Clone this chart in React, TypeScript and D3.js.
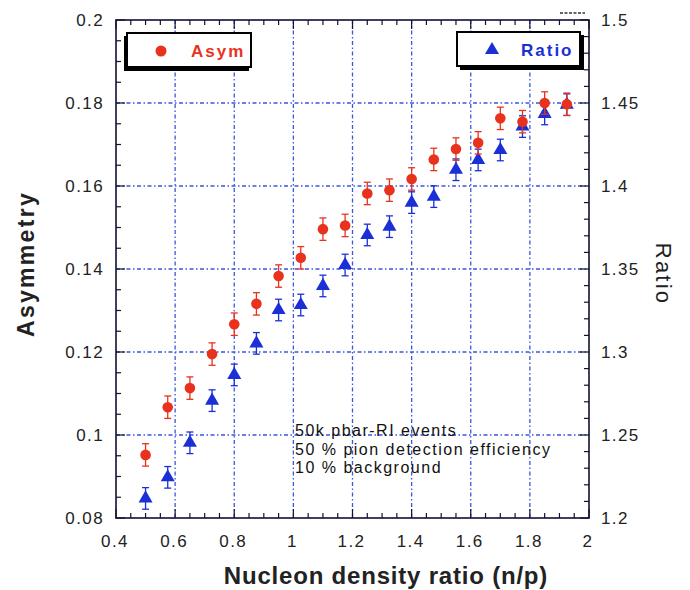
import React from "react";
import * as d3 from "d3";

const xVals = [0.5, 0.575, 0.65, 0.725, 0.8, 0.875, 0.95, 1.025, 1.1, 1.175, 1.25, 1.325, 1.4, 1.475, 1.55, 1.625, 1.7, 1.775, 1.85, 1.925];
const asymVals = [0.0952, 0.1067, 0.1113, 0.1195, 0.1267, 0.1316, 0.1383, 0.1427, 0.1496, 0.1505, 0.1582, 0.159, 0.1617, 0.1664, 0.1689, 0.1704, 0.1763, 0.1755, 0.18, 0.1797];
const asymErr = [0.0027, 0.0027, 0.0027, 0.0027, 0.0027, 0.0027, 0.0027, 0.0027, 0.0027, 0.0027, 0.0027, 0.0027, 0.0027, 0.0027, 0.0027, 0.0027, 0.0027, 0.0027, 0.0027, 0.0027];
const ratioVals = [1.2118, 1.2245, 1.2453, 1.2707, 1.2862, 1.3052, 1.3253, 1.3283, 1.3398, 1.3524, 1.3705, 1.3755, 1.39, 1.3936, 1.4098, 1.4157, 1.4217, 1.4358, 1.4434, 1.449];
const ratioErr = [0.0065, 0.0065, 0.0065, 0.0065, 0.0065, 0.0065, 0.0065, 0.0065, 0.0065, 0.0065, 0.0065, 0.0065, 0.0065, 0.0065, 0.0065, 0.0065, 0.0065, 0.0065, 0.0065, 0.0065];
const xTicks = [0.4, 0.6, 0.8, 1, 1.2, 1.4, 1.6, 1.8, 2];
const yLeftTicks = [0.08, 0.1, 0.12, 0.14, 0.16, 0.18, 0.2];
const yRightTicks = [1.2, 1.25, 1.3, 1.35, 1.4, 1.45, 1.5];
const noteLines = ["50k pbar-RI events", "50 % pion detection efficiency", "10 % background"];

const RED = "#e8321e";
const BLUE = "#1a2fd6";
const GRID = "#3a55e0";
const FONT = "'Liberation Sans', Arial, Helvetica, sans-serif";

export default function App() {
  const L = 116, R = 589, T = 20, B = 518;
  const x = d3.scaleLinear().domain([0.4, 2]).range([L, R]);
  const yL = d3.scaleLinear().domain([0.08, 0.2]).range([B, T]);
  const yR = d3.scaleLinear().domain([1.2, 1.5]).range([B, T]);
  const tri = d3.symbol().type(d3.symbolTriangle).size(85)();

  const xMinor = d3.range(0.4, 2.0001, 0.05);
  const yLMinor = d3.range(0.08, 0.2001, 0.005);
  const yRMinor = d3.range(1.2, 1.5001, 0.01);
  const axisCol = "#111133";
  const tickFont = { fontSize: 17, letterSpacing: 1.4 } as const;

  return (
    <svg width={690} height={590} style={{ position: "absolute", left: 0, top: 0, background: "#fff" }} fontFamily={FONT}>
      <rect x={0} y={0} width={690} height={590} fill="#fff" />
      {/* grid */}
      {xTicks.slice(1, -1).map((t) => (
        <line key={"gx" + t} x1={x(t)} x2={x(t)} y1={T} y2={B} stroke={GRID} strokeWidth={1.3} strokeDasharray="4,2.5,1.5,2.5" />
      ))}
      {yLeftTicks.slice(1, -1).map((t) => (
        <line key={"gy" + t} x1={L} x2={R} y1={yL(t)} y2={yL(t)} stroke={GRID} strokeWidth={1.3} strokeDasharray="4,2.5,1.5,2.5" />
      ))}
      {/* minor ticks */}
      {xMinor.map((t, i) => {
        const major = i % 4 === 0;
        const len = major ? 9 : 5;
        return (
          <g key={"xm" + i}>
            <line x1={x(t)} x2={x(t)} y1={B} y2={B - len} stroke={axisCol} strokeWidth={1.2} />
            <line x1={x(t)} x2={x(t)} y1={T} y2={T + len} stroke={axisCol} strokeWidth={1.2} />
          </g>
        );
      })}
      {yLMinor.map((t, i) => {
        const major = i % 4 === 0;
        return <line key={"ylm" + i} x1={L} x2={L + (major ? 9 : 5)} y1={yL(t)} y2={yL(t)} stroke={axisCol} strokeWidth={1.2} />;
      })}
      {yRMinor.map((t, i) => {
        const major = i % 5 === 0;
        return <line key={"yrm" + i} x1={R} x2={R - (major ? 9 : 5)} y1={yR(t)} y2={yR(t)} stroke={axisCol} strokeWidth={1.2} />;
      })}
      {/* frame */}
      <rect x={L} y={T} width={R - L} height={B - T} fill="none" stroke={axisCol} strokeWidth={1.6} />
      <line x1={560} x2={585} y1={13} y2={13} stroke="#333" strokeWidth={1.5} strokeDasharray="3,1.5" />

      {/* tick labels */}
      {xTicks.map((t) => (
        <text key={"xl" + t} x={x(t) - 1} y={547} textAnchor="middle" {...tickFont} fill="#222">{String(t)}</text>
      ))}
      {yLeftTicks.map((t) => (
        <text key={"yl" + t} x={104} y={yL(t) + 6} textAnchor="end" {...tickFont} fill="#222">{String(t)}</text>
      ))}
      {yRightTicks.map((t) => (
        <text key={"yr" + t} x={601} y={yR(t) + 6} textAnchor="start" {...tickFont} fill="#222">{String(t)}</text>
      ))}

      {/* axis titles */}
      <text x={386} y={584} textAnchor="middle" fontSize={24} letterSpacing={0.8} fontWeight="bold" fill="#222">Nucleon density ratio (n/p)</text>
      <text transform={`translate(34,264) rotate(-90)`} textAnchor="middle" fontSize={23} letterSpacing={2.3} fontWeight="bold" fill="#222">Asymmetry</text>
      <text transform={`translate(656,274) rotate(90)`} textAnchor="middle" fontSize={22} letterSpacing={2.2} fill="#222">Ratio</text>

      {/* ratio series */}
      {xVals.map((xv, i) => {
        const cx = x(xv);
        const y0 = yR(ratioVals[i] - ratioErr[i]);
        const y1 = yR(ratioVals[i] + ratioErr[i]);
        return (
          <g key={"r" + i} stroke={BLUE} strokeWidth={1.3}>
            <line x1={cx} x2={cx} y1={y0} y2={y1} />
            <line x1={cx - 3.5} x2={cx + 3.5} y1={y0} y2={y0} />
            <line x1={cx - 3.5} x2={cx + 3.5} y1={y1} y2={y1} />
            <path d={tri} transform={`translate(${cx},${yR(ratioVals[i])})`} fill={BLUE} stroke="none" />
          </g>
        );
      })}
      {/* asym series */}
      {xVals.map((xv, i) => {
        const cx = x(xv);
        const y0 = yL(asymVals[i] - asymErr[i]);
        const y1 = yL(asymVals[i] + asymErr[i]);
        return (
          <g key={"a" + i} stroke={RED} strokeWidth={1.3}>
            <line x1={cx} x2={cx} y1={y0} y2={y1} />
            <line x1={cx - 3.5} x2={cx + 3.5} y1={y0} y2={y0} />
            <line x1={cx - 3.5} x2={cx + 3.5} y1={y1} y2={y1} />
            <circle cx={cx} cy={yL(asymVals[i])} r={5.3} fill={RED} stroke="none" />
          </g>
        );
      })}

      {/* note */}
      {noteLines.map((s, i) => (
        <text key={"n" + i} x={295} y={436 + i * 18.5} fontSize={16} letterSpacing={1.5} fill="#111">{s}</text>
      ))}

      {/* legends */}
      <rect x={124} y={36} width={125} height={35} fill="#000" />
      <rect x={127} y={33} width={124} height={34} fill="#fff" stroke="#000" strokeWidth={2} />
      <circle cx={161} cy={51} r={5.5} fill={RED} />
      <text x={191} y={57} fontSize={17} letterSpacing={2} fontWeight="bold" fill={RED}>Asym</text>

      <rect x={460} y={35} width={124} height={35} fill="#000" />
      <rect x={457} y={32} width={123} height={34} fill="#fff" stroke="#000" strokeWidth={2} />
      <path d={tri} transform="translate(492,50)" fill={BLUE} />
      <text x={521} y={56} fontSize={17} letterSpacing={2} fontWeight="bold" fill={BLUE}>Ratio</text>
    </svg>
  );
}
